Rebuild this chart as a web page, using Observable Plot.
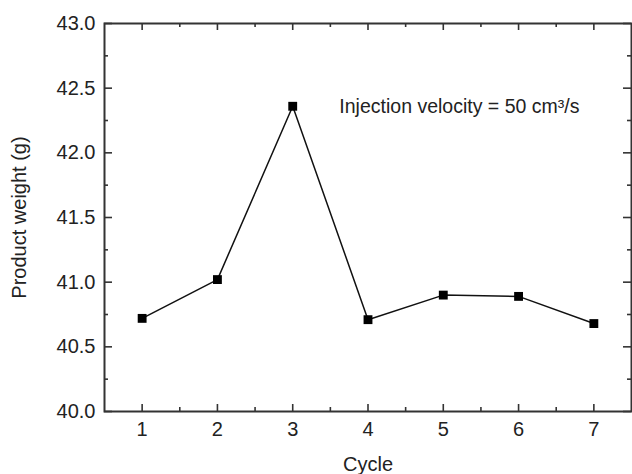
<!DOCTYPE html>
<html>
<head>
<meta charset="utf-8">
<script src="https://cdn.jsdelivr.net/npm/d3@7"></script>
<script src="https://cdn.jsdelivr.net/npm/@observablehq/plot@0.6"></script>
<style>
  html, body { margin: 0; padding: 0; background: #fff; }
  svg { font-family: Arial, "Liberation Sans", Helvetica, sans-serif; }
</style>
</head>
<body>
<div id="chart"></div>
<script>
// Product weight per injection cycle
const cycles = [1, 2, 3, 4, 5, 6, 7];
const weights = [40.72, 41.02, 42.36, 40.71, 40.90, 40.89, 40.68];

const xMajor = [1, 2, 3, 4, 5, 6, 7];
const xMinor = [1.5, 2.5, 3.5, 4.5, 5.5, 6.5];
const yMajor = [40.0, 40.5, 41.0, 41.5, 42.0, 42.5, 43.0];
const yMinor = [40.25, 40.75, 41.25, 41.75, 42.25, 42.75];

const xDomain = [0.5, 7.5];
const yDomain = [40, 43];

const data = cycles.map((c, i) => ({cycle: c, weight: weights[i]}));

// layout
const width = 632, height = 474;
const margin = {top: 23, right: 1, bottom: 63, left: 104};
const frameW = width - margin.left - margin.right;
const frameH = height - margin.top - margin.bottom;

// one pixel expressed in data units along each axis
const pxX = (xDomain[1] - xDomain[0]) / frameW;
const pxY = (yDomain[1] - yDomain[0]) / frameH;

const axisColor = "#333";
const fontFamily = "Arial, 'Liberation Sans', sans-serif";

// inward tick marks on all four sides, drawn as short rules
function ticksX(values, len) {
  const o = {x: d => d, stroke: axisColor, strokeWidth: 1.6};
  return [
    Plot.ruleX(values, {...o, y1: yDomain[0], y2: yDomain[0] + len * pxY}),
    Plot.ruleX(values, {...o, y1: yDomain[1], y2: yDomain[1] - len * pxY})
  ];
}
function ticksY(values, len) {
  const o = {y: d => d, stroke: axisColor, strokeWidth: 1.6};
  return [
    Plot.ruleY(values, {...o, x1: xDomain[0], x2: xDomain[0] + len * pxX}),
    Plot.ruleY(values, {...o, x1: xDomain[1], x2: xDomain[1] - len * pxX})
  ];
}

const chart = Plot.plot({
  width,
  height,
  marginLeft: margin.left,
  marginRight: margin.right,
  marginTop: margin.top,
  marginBottom: margin.bottom,
  style: {fontSize: "20px", fontFamily, color: "#222"},
  x: {domain: xDomain},
  y: {domain: yDomain},
  marks: [
    Plot.frame({stroke: axisColor, strokeWidth: 2}),
    ...ticksX(xMajor, 7),
    ...ticksX(xMinor, 4),
    ...ticksY(yMajor, 8),
    ...ticksY(yMinor, 4),
    Plot.axisX({ticks: xMajor, tickSize: 0, tickPadding: 10, tickFormat: d3.format("d"), label: null, fontSize: 20, fill: "#222"}),
    Plot.axisY({ticks: yMajor, tickSize: 0, tickPadding: 9, tickFormat: d3.format(".1f"), label: null, fontSize: 20, fill: "#222"}),
    Plot.text(["Cycle"], {frameAnchor: "bottom", dy: 59, text: d => d, fontSize: 20, fill: "#222"}),
    Plot.text(["Product weight (g)"], {frameAnchor: "left", textAnchor: "middle", dx: -85, rotate: -90, text: d => d, fontSize: 20, fill: "#222"}),
    Plot.text(["Injection velocity = 50 cm³/s"], {x: 3.5, y: 42.36, text: d => d, textAnchor: "start", dx: 9, fontSize: 19.5, fill: "#222"}),
    Plot.line(data, {x: "cycle", y: "weight", stroke: "#111", strokeWidth: 1.5}),
    Plot.dot(data, {x: "cycle", y: "weight", symbol: "square", r: 5, fill: "#000", stroke: "none"})
  ]
});

document.getElementById("chart").append(chart);
</script>
</body>
</html>
